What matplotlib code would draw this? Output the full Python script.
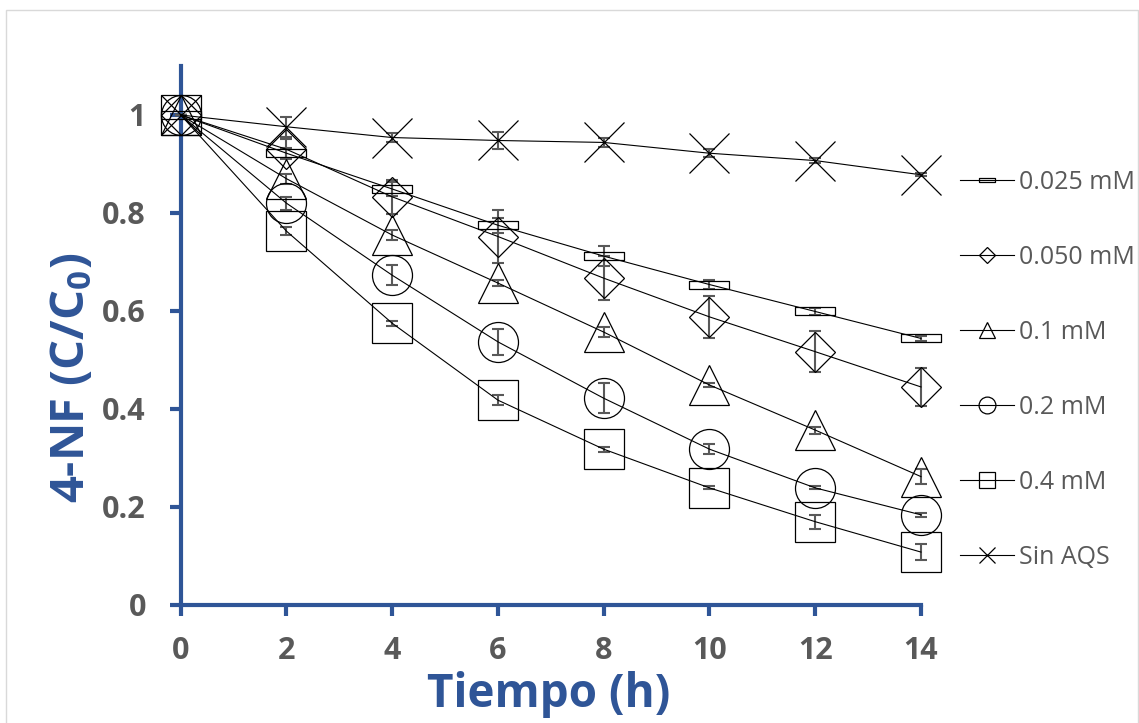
import numpy as np
import matplotlib
matplotlib.use("Agg")
import matplotlib.pyplot as plt
from matplotlib.lines import Line2D

plt.rcParams['font.family'] = ['Open Sans', 'DejaVu Sans']
plt.rcParams['mathtext.fontset'] = 'custom'
plt.rcParams['mathtext.rm'] = 'Open Sans:bold'
plt.rcParams['mathtext.it'] = 'Open Sans:bold'
plt.rcParams['mathtext.bf'] = 'Open Sans:bold'

# data
tiempo = [0, 2, 4, 6, 8, 10, 12, 14]
c_0025 = [1.0, 0.922, 0.849, 0.775, 0.712, 0.654, 0.599, 0.544]
e_0025 = [0, 0.01, 0.015, 0.015, 0.02, 0.01, 0.008, 0.005]
c_0050 = [1.0, 0.93, 0.833, 0.752, 0.667, 0.588, 0.517, 0.445]
e_0050 = [0, 0.02, 0.035, 0.055, 0.045, 0.043, 0.042, 0.039]
c_01 = [1.0, 0.87, 0.755, 0.657, 0.557, 0.449, 0.357, 0.262]
e_01 = [0, 0.01, 0.01, 0.006, 0.01, 0.005, 0.007, 0.015]
c_02 = [1.0, 0.82, 0.673, 0.537, 0.422, 0.318, 0.239, 0.184]
e_02 = [0, 0.013, 0.02, 0.027, 0.031, 0.01, 0.003, 0.004]
c_04 = [1.0, 0.763, 0.575, 0.418, 0.318, 0.239, 0.17, 0.108]
e_04 = [0, 0.008, 0.005, 0.01, 0.005, 0.003, 0.014, 0.016]
c_sin = [1.0, 0.976, 0.954, 0.948, 0.944, 0.922, 0.907, 0.878]
e_sin = [0, 0.02, 0.01, 0.017, 0.01, 0.008, 0.005, 0.003]

labels = ['0.025 mM', '0.050 mM', '0.1 mM', '0.2 mM', '0.4 mM', 'Sin AQS']

azul = '#2F5597'
gris = '#595959'

# thin rectangle marker (excel "dash")
dash = [(-1, -0.2), (1, -0.2), (1, 0.2), (-1, 0.2), (-1, -0.2)]

series = [
    (c_0025, e_0025, dash, 28.8),
    (c_0050, e_0050, 'D', 20.4),
    (c_01, e_01, '^', 28.8),
    (c_02, e_02, 'o', 28.8),
    (c_04, e_04, 's', 28.8),
    (c_sin, e_sin, 'x', 28.8),
]

fig = plt.figure(figsize=(11.39, 7.23), dpi=100)
ax = fig.add_axes([180.7 / 1139, 1 - 605 / 723, (921 - 180.7) / 1139, (605 - 66) / 723])

for (y, e, m, ms) in series:
    eb = ax.errorbar(tiempo, y, yerr=e, fmt='none', ecolor=gris, elinewidth=1.5,
                     capsize=4, capthick=1.5, zorder=3)
    for art in eb.lines[1] + eb.lines[2]:
        art.set_clip_on(False)
    ax.plot(tiempo, y, color='black', lw=0.8, marker=m, ms=ms, mfc='none',
            mec='black', mew=0.9, clip_on=False, zorder=4)

ax.set_xlim(0, 14)
ax.set_ylim(0, 1.1)
ax.set_xticks(range(0, 15, 2))
ax.set_yticks([0, 0.2, 0.4, 0.6, 0.8, 1.0])
ax.set_yticklabels(['0', '0.2', '0.4', '0.6', '0.8', '1'])

for s in ['top', 'right']:
    ax.spines[s].set_visible(False)
for s in ['left', 'bottom']:
    ax.spines[s].set_color(azul)
    ax.spines[s].set_linewidth(3)
ax.tick_params(axis='both', direction='out', length=8, width=3, color=azul,
               labelsize=22, labelcolor=gris)
ax.tick_params(axis='y', pad=17)
ax.tick_params(axis='x', pad=14)
for lab in ax.get_xticklabels() + ax.get_yticklabels():
    lab.set_fontweight('bold')

fig.text(72 / 1139, 1 - 378 / 723, r'4-NF (C/C$_0$)', rotation=90, ha='center',
         va='center', fontsize=34, fontweight='bold', color=azul)
fig.text(549 / 1139, 1 - 694 / 723, 'Tiempo (h)', ha='center', va='center',
         fontsize=33, fontweight='bold', color=azul)

# legend
handles = []
for (y, e, m, ms) in series:
    handles.append(Line2D([0], [0], color='black', lw=0.8, marker=m, ms=ms * 0.42,
                          mfc='none', mec='black', mew=0.9))
fig.legend(handles, labels, loc='center left', bbox_to_anchor=(960 / 1139, 1 - 370 / 723),
           frameon=False, fontsize=18, labelcolor=gris, handlelength=2.15,
           handletextpad=0.2, labelspacing=2.0, borderpad=0, borderaxespad=0)

# chart border
fig.add_artist(plt.Rectangle((6 / 1139, -0.01), (1138 - 6) / 1139, (1 - 10 / 723) + 0.01,
                             transform=fig.transFigure, fill=False, ec='#D9D9D9', lw=1))

fig.savefig('out.png', dpi=100)
